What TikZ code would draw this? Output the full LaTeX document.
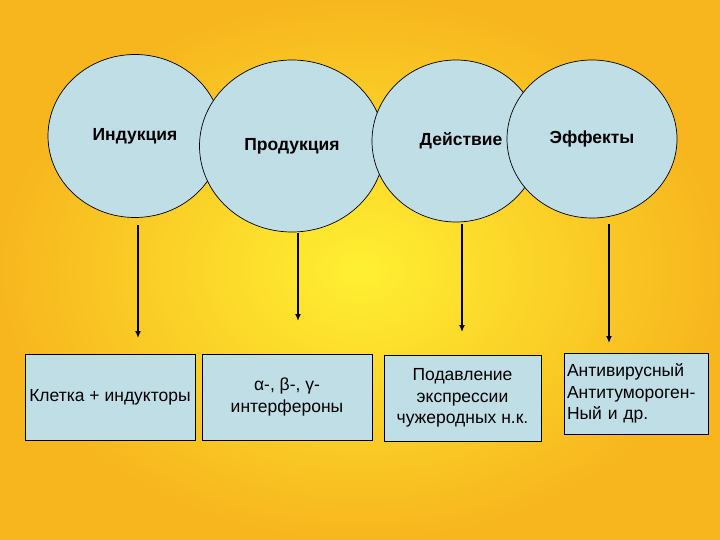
\documentclass[tikz,border=0pt]{standalone}
\usepackage{fontspec}
\setmainfont{Liberation Sans}
\usetikzlibrary{shapes.geometric,arrows.meta}
\definecolor{bgyellow}{RGB}{255,240,50}
\definecolor{bgorange}{RGB}{247,182,30}
\definecolor{pale}{RGB}{192,222,230}
\tikzset{
  phase/.style={ellipse, draw=black, line width=0.7pt, fill=pale, inner sep=0pt, font=\bfseries\fontsize{17.5}{20}\selectfont},
  result/.style={rectangle, draw=black, line width=0.9pt, fill=pale, inner sep=3pt, font=\fontsize{17.5}{21.5}\selectfont},
  down/.style={-{Latex[length=7pt,width=6pt]}, line width=1.3pt}
}

\begin{document}
\begin{tikzpicture}[x=1pt,y=-1pt]
\useasboundingbox (0,0) rectangle (720,540);
\shade[inner color=bgyellow, outer color=bgorange] (0,0) rectangle (720,540);
\node[phase, minimum width=174pt, minimum height=163pt] (ind) at (135,136) {Индукция};
\node[phase, minimum width=185pt, minimum height=172pt] (prod) at (292,146) {Продукция};
\node[phase, minimum width=168pt, minimum height=162pt] (dejs) at (456,141) {\hspace*{10pt}Действие};
\node[phase, minimum width=170pt, minimum height=158pt] (eff) at (592,139) {Эффекты};
\node[result, minimum width=170pt, minimum height=86pt] (kl) at (110,397) {Клетка + индукторы};
\node[result, minimum width=170pt, minimum height=86pt, align=center] (ifn) at (287,397) {α-, β-, γ-\\интерфероны};
\node[result, minimum width=157pt, minimum height=86pt, align=center] (pod) at (462.5,398) {Подавление\\экспрессии\\чужеродных н.к.};
\node[result, minimum width=144pt, minimum height=81pt, align=left, text width=138pt] (anti) at (636,393.5) {Антивирусный\\{Антитуморо}{ген-}\\Ный и др.};
\coordinate (s1) at (138,225);
\coordinate (t1) at (138,338);
\coordinate (s2) at (298,233);
\coordinate (t2) at (298,321);
\coordinate (s3) at (462,224);
\coordinate (t3) at (462,332);
\coordinate (s4) at (609,224);
\coordinate (t4) at (609,343);
\draw[down] (s1) -- (t1);
\draw[down] (s2) -- (t2);
\draw[down] (s3) -- (t3);
\draw[down] (s4) -- (t4);
\end{tikzpicture}
\end{document}
